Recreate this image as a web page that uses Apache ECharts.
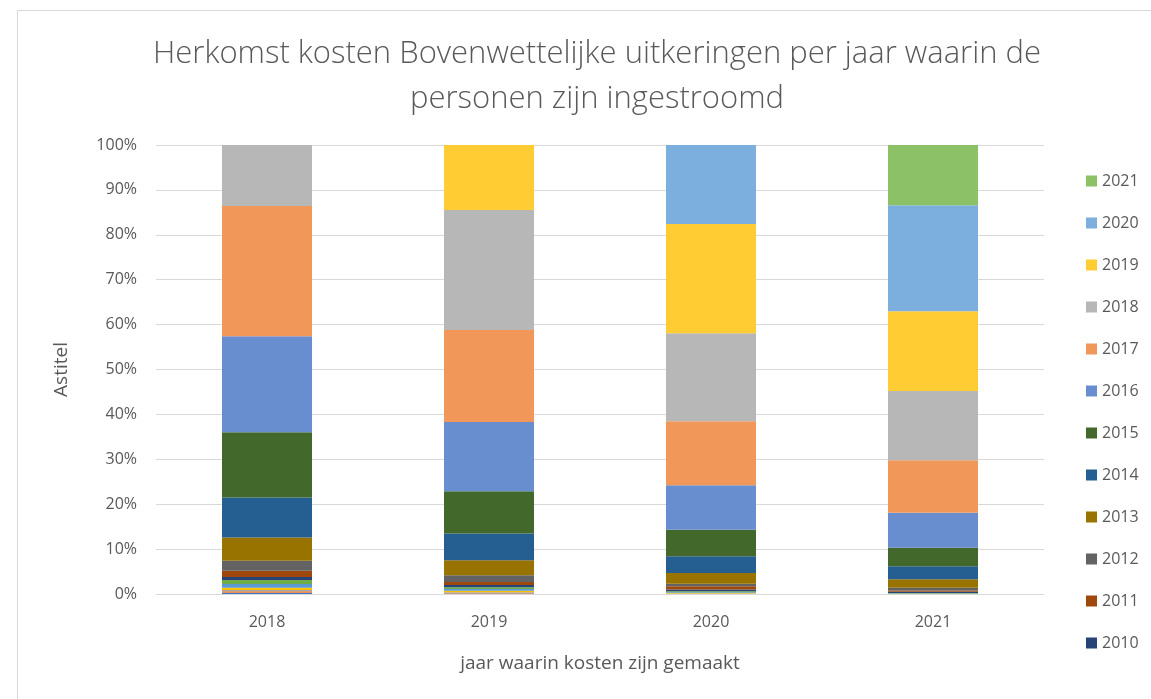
<!DOCTYPE html>
<html lang="nl">
<head>
<meta charset="UTF-8">
<title>Herkomst kosten Bovenwettelijke uitkeringen</title>
<script src="https://cdn.jsdelivr.net/npm/echarts@6/dist/echarts.min.js"></script>
<style>
  html, body { margin: 0; padding: 0; background: #fff; }
  #chart { width: 1151px; height: 699px; }
</style>
</head>
<body>
<div id="chart"></div>
<script>
// jaren waarin kosten zijn gemaakt (x-as)
var categories = ['2018', '2019', '2020', '2021'];
// jaar van instroom, van onder naar boven gestapeld
var years = ['2004', '2005', '2006', '2007', '2008', '2009', '2010', '2011', '2012',
             '2013', '2014', '2015', '2016', '2017', '2018', '2019', '2020', '2021'];
// alleen deze staan in de legenda
var legendYears = ['2021', '2020', '2019', '2018', '2017', '2016', '2015', '2014',
                   '2013', '2012', '2011', '2010'];
var colors = ['#4472C4', '#ED7D31', '#A5A5A5', '#FFC000', '#5B9BD5', '#70AD47',
              '#264478', '#9E480E', '#636363', '#997300', '#255E91', '#43682B',
              '#698ED0', '#F1975A', '#B7B7B7', '#FFCD33', '#7CAFDD', '#8CC168'];
// aandelen in %, per instroomjaar, voor 2018..2021
var shares = {
  '2004': [0.3, 0.1, 0, 0],
  '2005': [0.3, 0.1, 0, 0],
  '2006': [0.3, 0.2, 0.1, 0],
  '2007': [0.5, 0.3, 0.1, 0],
  '2008': [0.8, 0.4, 0.2, 0.1],
  '2009': [0.9, 0.4, 0.2, 0.1],
  '2010': [0.7, 0.5, 0.4, 0.3],
  '2011': [1.4, 0.7, 0.7, 0.3],
  '2012': [2.2, 1.5, 0.6, 0.6],
  '2013': [5.2, 3.3, 2.4, 1.9],
  '2014': [8.9, 6.0, 3.7, 2.9],
  '2015': [14.5, 9.4, 5.9, 4.1],
  '2016': [21.4, 15.4, 9.9, 7.8],
  '2017': [29.0, 20.5, 14.3, 11.7],
  '2018': [13.6, 26.7, 19.6, 15.4],
  '2019': [0, 14.5, 24.3, 17.8],
  '2020': [0, 0, 17.6, 23.6],
  '2021': [0, 0, 0, 13.4]
};

var txt = '#595959';
var series = years.map(function (y, i) {
  return {
    name: y,
    type: 'bar',
    stack: 'totaal',
    barWidth: 90,
    itemStyle: { color: colors[i] },
    data: shares[y]
  };
});

var chart = echarts.init(document.getElementById('chart'));
chart.setOption({
  animation: false,
  graphic: [{
    type: 'rect',
    shape: { x: 17.5, y: 10.5, width: 1200, height: 720 },
    style: { fill: 'none', stroke: '#d9d9d9', lineWidth: 1 }
  }],
  title: {
    text: 'Herkomst kosten Bovenwettelijke uitkeringen per jaar waarin de\npersonen zijn ingestroomd',
    left: 592,
    textAlign: 'center',
    top: 27,
    textStyle: {
      fontFamily: 'Open Sans',
      fontWeight: 300,
      fontSize: 31,
      lineHeight: 45,
      color: txt
    }
  },
  legend: {
    data: legendYears,
    orient: 'vertical',
    left: 1081,
    top: 168,
    itemWidth: 11,
    itemHeight: 11,
    itemGap: 26,
    icon: 'rect',
    selectedMode: false,
    textStyle: { fontFamily: 'Open Sans', fontSize: 16, color: txt, lineHeight: 16 }
  },
  grid: { left: 156, right: 107, top: 145, bottom: 105 },
  xAxis: {
    type: 'category',
    data: categories,
    name: 'jaar waarin kosten zijn gemaakt',
    nameLocation: 'middle',
    nameGap: 60,
    nameTextStyle: { fontFamily: 'Open Sans', fontSize: 19, color: txt },
    axisLine: { lineStyle: { color: '#d9d9d9' } },
    axisTick: { show: false },
    axisLabel: { fontFamily: 'Open Sans', fontSize: 16, color: txt, margin: 20 }
  },
  yAxis: {
    type: 'value',
    min: 0,
    max: 100,
    interval: 10,
    name: 'Astitel',
    nameLocation: 'middle',
    nameGap: 85,
    nameTextStyle: { fontFamily: 'Open Sans', fontSize: 19, color: txt },
    axisLine: { show: false },
    axisTick: { show: false },
    splitLine: { lineStyle: { color: '#d9d9d9' } },
    axisLabel: {
      fontFamily: 'Open Sans', fontSize: 16, color: txt, margin: 19,
      formatter: '{value}%'
    }
  },
  series: series
});
</script>
</body>
</html>
